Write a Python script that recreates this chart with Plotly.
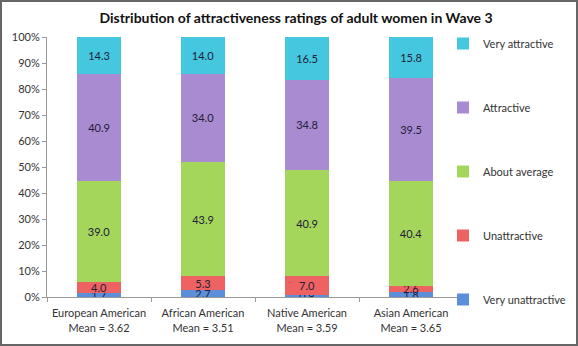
import plotly.graph_objects as go

categories = ["European American<br>Mean = 3.62", "African American<br>Mean = 3.51",
              "Native American<br>Mean = 3.59", "Asian American<br>Mean = 3.65"]
series_names = ["Very unattractive", "Unattractive", "About average", "Attractive", "Very attractive"]
very_unattractive = [1.7, 2.7, 0.9, 1.8]
unattractive = [4.0, 5.3, 7.0, 2.6]
about_average = [39.0, 43.9, 40.9, 40.4]
attractive = [40.9, 34.0, 34.8, 39.5]
very_attractive = [14.3, 14.0, 16.5, 15.8]
series_values = [very_unattractive, unattractive, about_average, attractive, very_attractive]
colors = ["#5b8fd9", "#ef6262", "#a5d65c", "#a98bd1", "#46c7e0"]
y_ticks = list(range(0, 101, 10))
y_tick_labels = [f"{v}%" for v in y_ticks]

FONT = "Lato, 'Open Sans', sans-serif"
L, R, T, B = 47, 115, 37, 49
W, H = 578, 346

fig = go.Figure()
n = len(series_names)
for i, (name, vals, col) in enumerate(zip(series_names, series_values, colors)):
    fig.add_trace(go.Bar(
        x=categories, y=vals, name=name, legendgroup=name, legendrank=n - i,
        marker=dict(color=col, line=dict(width=0)),
        text=[f"{v:.1f}" for v in vals], textposition="inside",
        insidetextanchor="middle", constraintext="none",
        textfont=dict(family=FONT, size=11, color="#1e2038"),
        width=0.42,
    ))

fig.update_layout(
    barmode="stack", width=W, height=H,
    margin=dict(l=L, r=R, t=T, b=B, autoexpand=False),
    paper_bgcolor="white", plot_bgcolor="white",
    font=dict(family=FONT, size=11, color="#333333"),
    title=dict(text="Distribution of attractiveness ratings of adult women in Wave 3",
               x=296 / W, xanchor="center", xref="container", y=1 - 18 / H, yanchor="middle",
               font=dict(family=FONT, size=14, color="#111111", weight="bold")),
    legend=dict(x=(443 - L) / (W - L - R), xanchor="left", y=1 + 8 / (H - T - B), yanchor="top",
                traceorder="grouped", tracegroupgap=45, maxheight=340,
                font=dict(family=FONT, size=11, color="#333333"),
                bgcolor="rgba(0,0,0,0)", itemwidth=30),
    xaxis=dict(showline=True, linecolor="#999999", linewidth=1, ticks="outside",
               tickson="boundaries", ticklen=4, tickcolor="#999999", tickangle=0,
               automargin=False, ticklabelstandoff=6,
               tickfont=dict(family=FONT, size=11, color="#333333"), showgrid=False),
    yaxis=dict(range=[0, 100], tickvals=y_ticks, ticktext=y_tick_labels, automargin=False,
               showline=True, linecolor="#999999", linewidth=1, ticks="outside",
               ticklen=4, tickcolor="#999999", showgrid=False, zeroline=False,
               tickfont=dict(family=FONT, size=11, color="#333333")),
    bargap=0.58,
)

pw, ph = W - L - R, H - T - B
fig.add_shape(type="rect", xref="paper", yref="paper",
              x0=(-L + 1) / pw, x1=(W - L - 1) / pw, y0=(-B + 1) / ph, y1=(H - B - 1) / ph,
              line=dict(color="#666666", width=2), fillcolor="rgba(0,0,0,0)", layer="below")

fig.write_html("out.html")
